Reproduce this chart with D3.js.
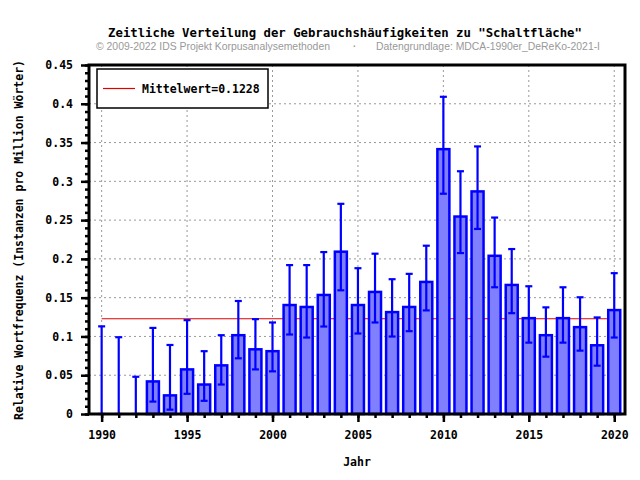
<!DOCTYPE html>
<html>
<head>
<meta charset="utf-8">
<script src="https://cdn.jsdelivr.net/npm/d3@7"></script>
<style>
  body { margin: 0; background: #fff; }
  svg text { font-family: "DejaVu Sans Mono", monospace; font-weight: bold; }
</style>
</head>
<body>
<svg id="canvas"></svg>
<script>
// Data
let years = [1990, 1991, 1992, 1993, 1994, 1995, 1996, 1997, 1998, 1999,
  2000, 2001, 2002, 2003, 2004, 2005, 2006, 2007, 2008, 2009,
  2010, 2011, 2012, 2013, 2014, 2015, 2016, 2017, 2018, 2019, 2020];
let values = [0, 0, 0, 0.042, 0.024, 0.0575, 0.038, 0.0627, 0.1016, 0.0834,
  0.081, 0.1405, 0.138, 0.1535, 0.2093, 0.1405, 0.1574, 0.1314, 0.138, 0.1703,
  0.3415, 0.2546, 0.287, 0.204, 0.1664, 0.1236, 0.1016, 0.1236, 0.112, 0.0886, 0.134];
let upper = [0.113, 0.099, 0.048, 0.111, 0.089, 0.121, 0.081, 0.1016, 0.1457, 0.1223,
  0.118, 0.192, 0.192, 0.2088, 0.271, 0.188, 0.2067, 0.1738, 0.1807, 0.217,
  0.409, 0.313, 0.345, 0.2533, 0.2127, 0.1647, 0.1375, 0.1634, 0.1505, 0.1245, 0.1816];
let lower = [0, 0, 0, 0.016, 0.0056, 0.026, 0.017, 0.038, 0.0718, 0.0575,
  0.055, 0.1025, 0.0986, 0.1128, 0.1595, 0.1038, 0.118, 0.0999, 0.1068, 0.1336,
  0.284, 0.2075, 0.2386, 0.1634, 0.130, 0.092, 0.0739, 0.092, 0.0817, 0.0623, 0.0986];
let meanValue = 0.1228;
let yTicks = [0, 0.05, 0.1, 0.15, 0.2, 0.25, 0.3, 0.35, 0.4, 0.45];
let xTicks = [1990, 1995, 2000, 2005, 2010, 2015, 2020];

let width = 640;
let height = 480;
let plotLeft = 89, plotRight = 625, plotTop = 65, plotBottom = 414;

let canvas = d3.select("#canvas").attr("width", width).attr("height", height);

let xScale = d3.scaleLinear().domain([1989.26, 2020.63]).range([plotLeft, plotRight]);
let yScale = d3.scaleLinear().domain([0, 0.45]).range([plotBottom, plotTop]);

// grid
canvas.append("g")
  .selectAll("line")
  .data(yTicks.slice(1, -1))
  .enter()
  .append("line")
  .attr("x1", plotLeft).attr("x2", plotRight)
  .attr("y1", (d) => yScale(d)).attr("y2", (d) => yScale(d))
  .attr("stroke", "#999").attr("stroke-dasharray", "2,3");
canvas.append("g")
  .selectAll("line")
  .data(xTicks)
  .enter()
  .append("line")
  .attr("x1", (d) => xScale(d)).attr("x2", (d) => xScale(d))
  .attr("y1", plotTop).attr("y2", plotBottom)
  .attr("stroke", "#999").attr("stroke-dasharray", "2,3");

// mean line
canvas.append("line")
  .attr("x1", xScale(years[0])).attr("x2", xScale(years[years.length - 1]))
  .attr("y1", yScale(meanValue)).attr("y2", yScale(meanValue))
  .attr("stroke", "#e00000").attr("stroke-width", 1.2);

// bars
let barW = 12;
canvas.append("g")
  .selectAll("rect")
  .data(years.filter((d, i) => values[i] > 0))
  .enter()
  .append("rect")
  .attr("x", (d) => xScale(d) - barW / 2)
  .attr("y", (d) => yScale(values[years.indexOf(d)]))
  .attr("width", barW)
  .attr("height", (d) => plotBottom - yScale(values[years.indexOf(d)]))
  .attr("fill", "#8080ff")
  .attr("stroke", "#0000ff")
  .attr("stroke-width", 2.5);

// error bars
let err = canvas.append("g").attr("stroke", "#0000ff").attr("stroke-width", 2.2);
years.forEach((yr, i) => {
  let x = xScale(yr);
  err.append("line").attr("x1", x).attr("x2", x)
    .attr("y1", yScale(lower[i])).attr("y2", yScale(upper[i]));
  err.append("line").attr("x1", x - 3.5).attr("x2", x + 3.5)
    .attr("y1", yScale(upper[i])).attr("y2", yScale(upper[i]));
  err.append("line").attr("x1", x - 3.5).attr("x2", x + 3.5)
    .attr("y1", yScale(lower[i])).attr("y2", yScale(lower[i]));
});

// axes
let yAxis = d3.axisLeft(yScale).tickValues(yTicks).tickSize(8).tickPadding(8)
  .tickFormat((d) => d === 0 ? "0" : String(+d.toFixed(2)));
let yMinor = d3.axisLeft(yScale).ticks(45).tickSize(4).tickFormat("");
let xAxis = d3.axisBottom(xScale).tickValues(xTicks).tickSize(8).tickPadding(9)
  .tickFormat(d3.format("d"));
let xMinor = d3.axisBottom(xScale).tickValues(years).tickSize(4).tickFormat("");

let styleAxis = (g) => {
  g.select(".domain").remove();
  g.selectAll("line").attr("stroke", "#000").attr("stroke-width", 2.5);
  g.selectAll("text").attr("fill", "#000").style("font-size", "11.5px");
};

canvas.append("g").attr("transform", "translate(" + plotLeft + ",0)").call(yMinor).call(styleAxis);
canvas.append("g").attr("transform", "translate(" + plotLeft + ",0)").call(yAxis).call(styleAxis);
canvas.append("g").attr("transform", "translate(0," + plotBottom + ")").call(xMinor).call(styleAxis);
canvas.append("g").attr("transform", "translate(0," + plotBottom + ")").call(xAxis).call(styleAxis);

// frame
canvas.append("rect")
  .attr("x", plotLeft).attr("y", plotTop)
  .attr("width", plotRight - plotLeft).attr("height", plotBottom - plotTop)
  .attr("fill", "none").attr("stroke", "#000").attr("stroke-width", 3);

// legend
canvas.append("rect")
  .attr("x", 97).attr("y", 69).attr("width", 171).attr("height", 39)
  .attr("fill", "#fff").attr("stroke", "#000").attr("stroke-width", 1.5);
canvas.append("line")
  .attr("x1", 103).attr("x2", 135).attr("y1", 88.5).attr("y2", 88.5)
  .attr("stroke", "#e00000").attr("stroke-width", 1.2);
canvas.append("text")
  .attr("x", 142).attr("y", 92.5)
  .style("font-size", "11.5px")
  .text("Mittelwert=" + meanValue);

// titles
canvas.append("text")
  .attr("x", 345).attr("y", 37)
  .attr("text-anchor", "middle")
  .style("font-size", "12.3px")
  .text("Zeitliche Verteilung der Gebrauchshäufigkeiten zu \"Schaltfläche\"");

let sub = (x, len, txt) => {
  canvas.append("text")
    .attr("x", x).attr("y", 50)
    .attr("textLength", len).attr("lengthAdjust", "spacingAndGlyphs")
    .style("font-family", "'Liberation Sans Narrow', 'Liberation Sans', sans-serif")
    .style("font-weight", "normal")
    .style("font-size", "11px")
    .attr("fill", "#999")
    .text(txt);
};
sub(96, 234, "© 2009-2022 IDS Projekt Korpusanalysemethoden");
canvas.append("text").attr("x", 351).attr("y", 50).attr("fill", "#999")
  .style("font-weight", "normal").style("font-size", "11px").text("·");
sub(376, 224, "Datengrundlage: MDCA-1990er_DeReKo-2021-I");

canvas.append("text")
  .attr("x", 357).attr("y", 466)
  .attr("text-anchor", "middle")
  .style("font-size", "11.5px")
  .text("Jahr");

canvas.append("text")
  .attr("transform", "translate(23,240) rotate(-90)")
  .attr("text-anchor", "middle")
  .style("font-size", "11.5px")
  .text("Relative Wortfrequenz (Instanzen pro Million Wörter)");
</script>
</body>
</html>
